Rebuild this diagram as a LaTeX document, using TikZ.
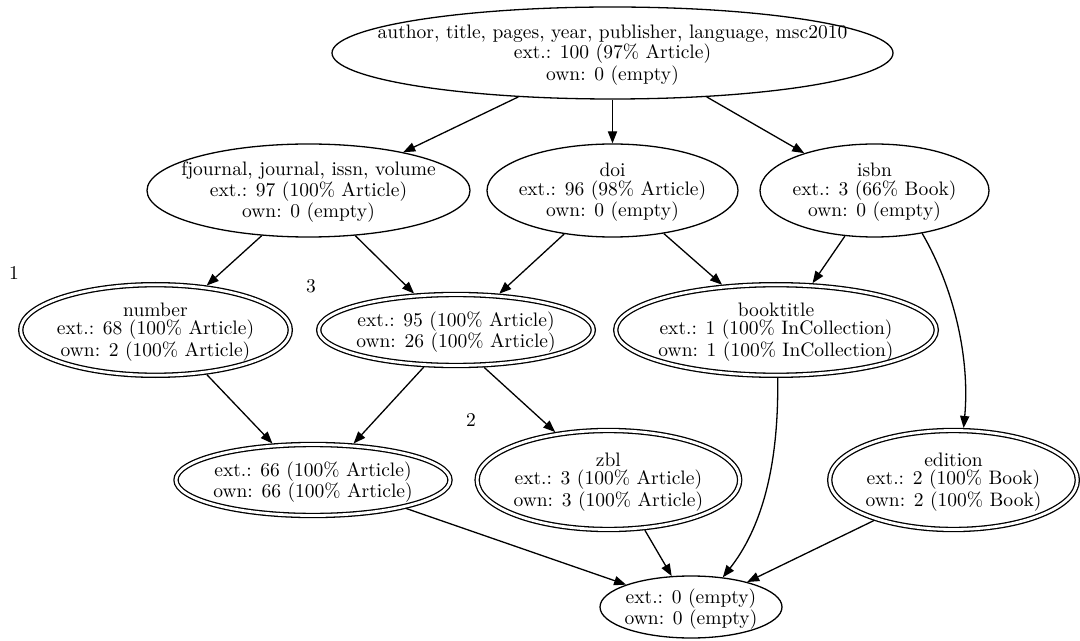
\documentclass[tikz,border=0pt]{standalone}
\usetikzlibrary{shapes.geometric,arrows.meta}
\tikzset{
  lw/.style={line width=0.65pt},
  plain/.style={ellipse, draw, lw, inner sep=0pt},
  dbl/.style={plain, double, double distance=1.4pt, outer sep=1.35pt},
  lbl/.style={align=center, inner sep=0pt, yshift=-1pt, font={\fontsize{9.75}{9.25}\selectfont}},
  num/.style={inner sep=0pt, font={\fontsize{9.75}{9.25}\selectfont}},
  arr/.style={lw, -{Triangle[length=6pt,width=4.6pt]}},
}
\begin{document}
\begin{tikzpicture}[x=0.5pt,y=-0.5pt]
\useasboundingbox (0,0) rectangle (1080,641);

% shapes (minimum sizes in pt equal the radii in picture units)
\node[plain, minimum width=280.5pt, minimum height=46pt]   (A)    at (612.5,53)    {};
\node[plain, minimum width=161.5pt, minimum height=46.5pt] (FJ)   at (308.5,190.5) {};
\node[plain, minimum width=125.5pt, minimum height=46.5pt] (DOI)  at (612.5,190.5) {};
\node[plain, minimum width=114.5pt, minimum height=46.5pt] (ISBN) at (874.5,190.5) {};
\node[dbl, minimum width=134.8pt, minimum height=45.3pt]   (NUM)  at (155.5,330)   {};
\node[dbl, minimum width=137.3pt, minimum height=35.5pt]   (N95)  at (456,330)     {};
\node[dbl, minimum width=160.3pt, minimum height=45.3pt]   (BT)   at (776,330)     {};
\node[dbl, minimum width=137pt,   minimum height=35.5pt]   (N66)  at (313,480)     {};
\node[dbl, minimum width=131.3pt, minimum height=49.5pt]   (ZBL)  at (608.4,480)   {};
\node[dbl, minimum width=123.8pt, minimum height=49.5pt]   (ED)   at (953.5,480)   {};
\node[plain, minimum width=91pt,  minimum height=31pt]     (BOT)  at (691,607)     {};

% labels
\node[lbl] (A-t) at (A) {author, title, pages, year, publisher, language, msc2010\\ext.: 100 (97\% Article)\\own: 0 (empty)};
\node[lbl] (FJ-t) at (FJ) {fjournal, journal, issn, volume\\ext.: 97 (100\% Article)\\own: 0 (empty)};
\node[lbl] (DOI-t) at (DOI) {doi\\ext.: 96 (98\% Article)\\own: 0 (empty)};
\node[lbl] (ISBN-t) at (ISBN) {isbn\\ext.: 3 (66\% Book)\\own: 0 (empty)};
\node[lbl] (NUM-t) at (NUM) {number\\ext.: 68 (100\% Article)\\own: 2 (100\% Article)};
\node[lbl] (N95-t) at (N95) {ext.: 95 (100\% Article)\\own: 26 (100\% Article)};
\node[lbl] (BT-t) at (BT) {booktitle\\ext.: 1 (100\% InCollection)\\own: 1 (100\% InCollection)};
\node[lbl] (N66-t) at (N66) {ext.: 66 (100\% Article)\\own: 66 (100\% Article)};
\node[lbl] (ZBL-t) at (ZBL) {zbl\\ext.: 3 (100\% Article)\\own: 3 (100\% Article)};
\node[lbl] (ED-t) at (ED) {edition\\ext.: 2 (100\% Book)\\own: 2 (100\% Book)};
\node[lbl] (BOT-t) at (BOT) {ext.: 0 (empty)\\own: 0 (empty)};

\node[num] (c1) at (14,273) {1};
\node[num] (c3) at (311,286) {3};
\node[num] (c2) at (471,420) {2};

% connectors
\draw[arr] (A.-155.2) -- (FJ.22.8);
\draw[arr] (A.-90) -- (DOI.90);
\draw[arr] (A.-25.7) -- (ISBN.152.3);
\draw[arr] (FJ.-136.7) -- (NUM.41.3);
\draw[arr] (FJ.-44.2) -- (N95.139.3);
\draw[arr] (DOI.-138.1) -- (N95.40.5);
\draw[arr] (DOI.-40.6) -- (BT.140.1);
\draw[arr] (ISBN.-123.5) -- (BT.52.3);
\draw[arr] (ISBN.-42) .. controls (955,290) and (970,360) .. (ED.79);
\draw[arr] (NUM.-41.4) -- (N66.138.6);
\draw[arr] (N95.-131) -- (N66.42.9);
\draw[arr] (N95.-53.3) -- (ZBL.138.6);
\draw[arr] (BT.-88) .. controls (779,470) and (760,530) .. (BOT.43);
\draw[arr] (N66.-17.8) -- (BOT.161);
\draw[arr] (ZBL.-54.7) -- (BOT.122.3);
\draw[arr] (ED.-153.6) -- (BOT.24.1);
\end{tikzpicture}
\end{document}
